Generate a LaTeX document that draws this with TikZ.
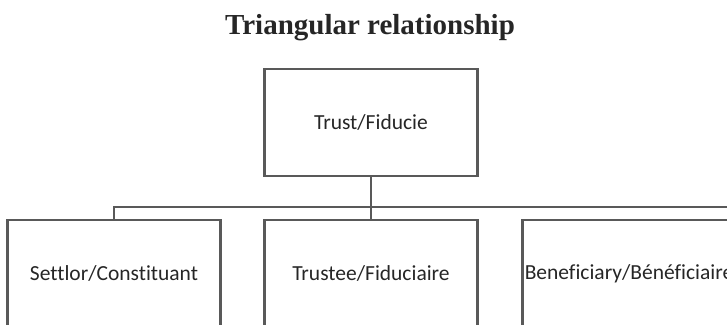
\documentclass[tikz,border=0pt]{standalone}
\usepackage{fontspec}
\setsansfont[Ligatures=NoCommon]{Carlito}
\newfontfamily\titlefont{Liberation Serif}
\usepackage{tikz}
\usetikzlibrary{positioning}

\begin{document}
\begin{tikzpicture}[x=1pt, y=-1pt,
	party/.style={draw=black!65, line width=2.6pt, rectangle, minimum width=213pt, minimum height=107pt, inner sep=0pt, font=\sffamily\fontsize{21.5}{24}\selectfont, text=black!85},
	link/.style={draw=black!65, line width=1.8pt}]
	\clip (0, 0) rectangle (727, 324);
	\node (title) [anchor=base, font=\titlefont\bfseries\fontsize{29}{34}\selectfont, text=black!85] at (370, 34) {Triangular relationship};
	\node (trust) [party] at (371, 122.5) {Trust/Fiducie};
	\node (settlor) [party] at (114, 273.5) {Settlor/Constituant};
	\node (trustee) [party] at (371, 273.5) {Trustee/Fiduciaire};
	\node (beneficiary) [party] at (629, 273.5) {Beneficiary/Bénéficiaire};
	\coordinate (busend) at (730, 207);
	\draw [link] (settlor.north) |- (busend);
	\draw [link] (trust.south) -- (trustee.north);
\end{tikzpicture}
\end{document}
